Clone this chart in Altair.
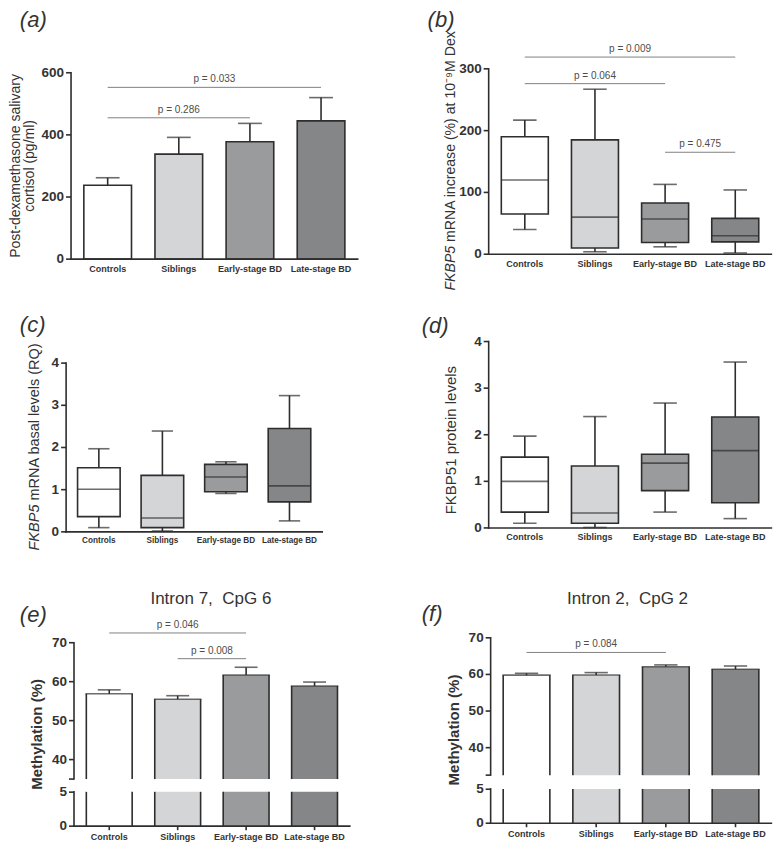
import altair as alt
import pandas as pd

# ---------------- data ----------------
groups = ["Controls", "Siblings", "Early-stage BD", "Late-stage BD"]
fills = ["#ffffff", "#d4d5d7", "#9a9b9d", "#858688"]

# (a) post-dexamethasone salivary cortisol (mean, mean + SEM)
cort_mean = [238, 338, 378, 445]
cort_top = [262, 392, 437, 520]
a_pvals = [["Controls", "Late-stage BD", 553, "p = 0.033"],
           ["Controls", "Early-stage BD", 455, "p = 0.286"]]
a_ticks = [0, 200, 400, 600]

# (b) FKBP5 mRNA increase at 10^-9 M Dex (box: min, q1, median, q3, max)
b_lo = [40, 4, 12, 2]
b_q1 = [65, 10, 19, 20]
b_med = [120, 60, 57, 30]
b_q3 = [190, 185, 83, 58]
b_hi = [217, 267, 113, 104]
b_pvals = [["Controls", "Late-stage BD", 319, "p = 0.009"],
           ["Controls", "Early-stage BD", 276, "p = 0.064"],
           ["Early-stage BD", "Late-stage BD", 165, "p = 0.475"]]
b_ticks = [0, 100, 200, 300]

# (c) FKBP5 mRNA basal levels
c_lo = [0.10, 0.02, 0.91, 0.26]
c_q1 = [0.36, 0.10, 0.95, 0.71]
c_med = [1.01, 0.33, 1.30, 1.09]
c_q3 = [1.52, 1.34, 1.60, 2.45]
c_hi = [1.97, 2.39, 1.66, 3.23]
c_ticks = [0, 1, 2, 3, 4]

# (d) FKBP51 protein levels
d_lo = [0.10, 0.01, 0.34, 0.20]
d_q1 = [0.34, 0.10, 0.80, 0.54]
d_med = [1.00, 0.32, 1.39, 1.66]
d_q3 = [1.52, 1.33, 1.58, 2.38]
d_hi = [1.97, 2.39, 2.68, 3.56]
d_ticks = [0, 1, 2, 3, 4]

# (e) Intron 7, CpG 6 methylation (mean, mean + SEM)
e_mean = [56.9, 55.5, 61.7, 58.9]
e_top = [57.9, 56.4, 63.7, 59.9]
e_pvals = [["Controls", "Early-stage BD", 72.5, "p = 0.046"],
           ["Siblings", "Early-stage BD", 65.9, "p = 0.008"]]

# (f) Intron 2, CpG 2 methylation
f_mean = [59.8, 59.85, 62.1, 61.4]
f_top = [60.3, 60.5, 62.6, 62.3]
f_pvals = [["Controls", "Early-stage BD", 66.0, "p = 0.084"]]

upper_ticks = [40, 50, 60, 70]
lower_ticks = [0, 5]

# ---------------- layout ----------------
W, H = 766, 836
SX, SY = 0.985, 0.981
FONT = "Liberation Sans"
INK = "#2e2e2e"
TXT = "#333333"
PLINE = "#808080"
PTXT = "#4d4d4d"
LW = 1.6
PI, PO = 0.33, 0.18
YLAB = 13.5


def fx(r):
    return round((r - 3) * SX, 2)


def fy(r):
    return round((r - 2) * SY, 2)


PA = dict(x0=67, x1=358, top=68, bot=258, dom=[0, 600], xl=9)
PB = dict(x0=491, x1=778, top=64, bot=253, dom=[0, 300], xl=9)
PC = dict(x0=62, x1=322, top=364, bot=536, dom=[0, 4], xl=8.2)
PD = dict(x0=491, x1=778, top=342, bot=532, dom=[0, 4], xl=9)
PE = dict(x0=70, x1=350, utop=649, ubot=788, ulo=35, ltop=801, lbot=836, lhi=5.05, xl=9)
PF = dict(x0=493, x1=778, utop=644, ubot=784, ulo=32.5, ltop=798, lbot=833, lhi=5.05, xl=9)


def geom(x0, x1):
    step = (fx(x1) - fx(x0)) / (len(groups) - PI + 2 * PO)
    return step, step * (1 - PI)


def make_xs(x0, x1):
    return alt.Scale(domain=groups, range=[fx(x0), fx(x1)], paddingInner=PI, paddingOuter=PO)


def make_ys(lo, hi, top, bot):
    return alt.Scale(domain=[lo, hi], range=[fy(bot), fy(top)], nice=False, zero=False)


# ---- axes drawn as marks through the panel scales ----
def y_axis(x0, ys, lo, hi, vals, end_ticks=()):
    px = fx(x0)
    line = alt.Chart(pd.DataFrame({"lo": [lo], "hi": [hi]})).mark_rule(
        color=INK, strokeWidth=LW, strokeCap="square").encode(
        x=alt.value(px), y=alt.Y("lo:Q", scale=ys, axis=None), y2="hi")
    tdf = pd.DataFrame({"v": list(vals) + list(end_ticks),
                        "lab": [str(v) for v in vals] + [""] * len(end_ticks)})
    ticks = alt.Chart(tdf).mark_rule(color=INK, strokeWidth=LW).encode(
        x=alt.value(px - 5), x2=alt.value(px), y=alt.Y("v:Q", scale=ys, axis=None))
    text = alt.Chart(tdf).mark_text(font=FONT, fontSize=YLAB, fontWeight="bold", color=TXT,
                                    align="right", baseline="middle").encode(
        x=alt.value(px - 7), y=alt.Y("v:Q", scale=ys, axis=None), text="lab:N")
    return [line, ticks, text]


def x_axis(x0, x1, xs, ys, lo, bot, ticks, fsize):
    py = fy(bot)
    line = alt.Chart(pd.DataFrame({"lo": [lo]})).mark_rule(
        color=INK, strokeWidth=LW, strokeCap="square").encode(
        x=alt.value(fx(x0)), x2=alt.value(fx(x1)), y=alt.Y("lo:Q", scale=ys, axis=None))
    gdf = pd.DataFrame({"g": groups})
    labs = alt.Chart(gdf).mark_text(font=FONT, fontSize=fsize, fontWeight="bold", color=TXT,
                                    baseline="top").encode(
        x=alt.X("g:N", scale=xs, axis=None), y=alt.value(py + (7 if ticks else 5.5)), text="g:N")
    out = [line, labs]
    if ticks:
        out.append(alt.Chart(gdf).mark_rule(color=INK, strokeWidth=LW).encode(
            x=alt.X("g:N", scale=xs, axis=None), y=alt.value(py), y2=alt.value(py + 4)))
    return out


def pval_layers(pvals, xs, ys, step, bw):
    out = []
    for g0, g1, lvl, lab in pvals:
        k = groups.index(g1) - groups.index(g0)
        base = alt.Chart(pd.DataFrame({"g0": [g0], "g1": [g1], "lvl": [lvl], "lab": [lab]}))
        out.append(base.mark_rule(color=PLINE, strokeWidth=1).encode(
            x=alt.X("g0:N", scale=xs, axis=None, bandPosition=0.5),
            x2=alt.X2("g1", bandPosition=0.5),
            y=alt.Y("lvl:Q", scale=ys, axis=None)))
        out.append(base.mark_text(font=FONT, fontSize=10, color=PTXT, dy=-5, dx=round(k * step / 2, 2),
                                  baseline="alphabetic").encode(
            x=alt.X("g0:N", scale=xs, axis=None, bandPosition=0.5),
            y=alt.Y("lvl:Q", scale=ys, axis=None),
            text="lab:N"))
    return out


def bar_panel(means, tops, P, vals, pvals):
    xs = make_xs(P["x0"], P["x1"])
    ys = make_ys(P["dom"][0], P["dom"][1], P["top"], P["bot"])
    step, bw = geom(P["x0"], P["x1"])
    base = alt.Chart(pd.DataFrame({"g": groups, "m": means, "t": tops, "fill": fills}))
    X = alt.X("g:N", scale=xs, axis=None)
    bars = base.mark_bar(stroke=INK, strokeWidth=LW).encode(
        x=X, y=alt.Y("m:Q", scale=ys, axis=None), color=alt.Color("fill:N", scale=None))
    err = base.mark_rule(color=INK, strokeWidth=LW).encode(
        x=X, y=alt.Y("m:Q", scale=ys, axis=None), y2="t")
    cap = base.mark_tick(color=INK, orient="horizontal", size=bw / 2, thickness=LW).encode(
        x=X, y=alt.Y("t:Q", scale=ys, axis=None))
    return alt.layer(
        bars, err, cap,
        *y_axis(P["x0"], ys, P["dom"][0], P["dom"][1], vals),
        *x_axis(P["x0"], P["x1"], xs, ys, P["dom"][0], P["bot"], False, P["xl"]),
        *pval_layers(pvals, xs, ys, step, bw))


def box_panel(lo, q1, med, q3, hi, P, vals, pvals):
    xs = make_xs(P["x0"], P["x1"])
    ys = make_ys(P["dom"][0], P["dom"][1], P["top"], P["bot"])
    step, bw = geom(P["x0"], P["x1"])
    base = alt.Chart(pd.DataFrame({"g": groups, "lo": lo, "q1": q1, "med": med,
                                   "q3": q3, "hi": hi, "fill": fills}))
    X = alt.X("g:N", scale=xs, axis=None)
    Yf = lambda f: alt.Y(f + ":Q", scale=ys, axis=None)
    box = base.mark_bar(stroke=INK, strokeWidth=LW).encode(
        x=X, y=Yf("q1"), y2="q3", color=alt.Color("fill:N", scale=None))
    wlo = base.mark_rule(color=INK, strokeWidth=LW).encode(x=X, y=Yf("lo"), y2="q1")
    whi = base.mark_rule(color=INK, strokeWidth=LW).encode(x=X, y=Yf("q3"), y2="hi")
    medt = base.mark_tick(color=INK, orient="horizontal", size=bw, thickness=LW).encode(x=X, y=Yf("med"))
    caplo = base.mark_tick(color=INK, orient="horizontal", size=bw / 2, thickness=LW).encode(x=X, y=Yf("lo"))
    caphi = base.mark_tick(color=INK, orient="horizontal", size=bw / 2, thickness=LW).encode(x=X, y=Yf("hi"))
    return alt.layer(
        box, wlo, whi, medt, caplo, caphi,
        *y_axis(P["x0"], ys, P["dom"][0], P["dom"][1], vals),
        *x_axis(P["x0"], P["x1"], xs, ys, P["dom"][0], P["bot"], False, P["xl"]),
        *pval_layers(pvals, xs, ys, step, bw))


def broken_panel(means, tops, P, pvals):
    xs = make_xs(P["x0"], P["x1"])
    step, bw = geom(P["x0"], P["x1"])
    ys_u = make_ys(P["ulo"], 70, P["utop"], P["ubot"])
    ys_l = make_ys(0, P["lhi"], P["ltop"], P["lbot"])
    base = alt.Chart(pd.DataFrame({"g": groups, "m": means, "t": tops, "fill": fills}))
    X = lambda **kw: alt.X("g:N", scale=xs, axis=None, **kw)
    Yu = lambda f: alt.Y(f + ":Q", scale=ys_u, axis=None)

    lbars = base.mark_bar().encode(
        x=X(), y=alt.YDatum(P["lhi"], scale=ys_l, axis=None),
        y2=alt.datum(0), color=alt.Color("fill:N", scale=None))
    ledges = [base.mark_rule(color=INK, strokeWidth=LW).encode(
        x=X(bandPosition=bp), y=alt.YDatum(0, scale=ys_l, axis=None), y2=alt.datum(P["lhi"])) for bp in (0, 1)]
    lower = alt.layer(
        lbars, *ledges,
        *y_axis(P["x0"], ys_l, 0, P["lhi"], lower_ticks),
        *x_axis(P["x0"], P["x1"], xs, ys_l, 0, P["lbot"], True, P["xl"]))

    ubars = base.mark_bar().encode(
        x=X(), y=Yu("m"), y2=alt.datum(P["ulo"]), color=alt.Color("fill:N", scale=None))
    uedges = [base.mark_rule(color=INK, strokeWidth=LW).encode(
        x=X(bandPosition=bp), y=Yu("m"), y2=alt.datum(P["ulo"])) for bp in (0, 1)]
    utop = base.mark_tick(color=INK, orient="horizontal", size=bw + LW, thickness=LW).encode(x=X(), y=Yu("m"))
    err = base.mark_rule(color=INK, strokeWidth=LW).encode(x=X(), y=Yu("m"), y2="t")
    cap = base.mark_tick(color=INK, orient="horizontal", size=bw / 2, thickness=LW).encode(x=X(), y=Yu("t"))
    upper = alt.layer(
        ubars, *uedges, utop, err, cap,
        *y_axis(P["x0"], ys_u, P["ulo"], 70, upper_ticks, end_ticks=[P["ulo"]]),
        *pval_layers(pvals, xs, ys_u, step, bw))
    return alt.layer(lower, upper).resolve_scale(y="independent")


def label(txt, x, y, size, weight="normal", style="normal", angle=0, align="center",
          baseline="alphabetic", color=TXT):
    return alt.Chart(pd.DataFrame({"t": [txt]})).mark_text(
        font=FONT, fontSize=size, fontWeight=weight, fontStyle=style, angle=angle,
        align=align, baseline=baseline, color=color).encode(
        x=alt.value(x), y=alt.value(y), text="t:N")


def mixed_title(it, rest, xc, ybot, fs, em_it):
    # italic gene name starts at ybot (reading upwards), the rest follows it
    L1, s = em_it * fs, 0.278 * fs
    anchor = fy(ybot) - L1
    return [label(it, fx(xc), anchor, fs, style="italic", angle=270, align="right", baseline="middle"),
            label(rest, fx(xc), anchor - s, fs, angle=270, align="left", baseline="middle")]


annotations = [
    label("(a)", fx(15), fy(21), 22, style="italic", align="left"),
    label("(b)", fx(429), fy(21), 22, style="italic", align="left"),
    label("(c)", fx(15), fy(332), 22, style="italic", align="left"),
    label("(d)", fx(423), fy(333), 22, style="italic", align="left"),
    label("(e)", fx(15), fy(627.5), 22, style="italic", align="left"),
    label("(f)", fx(423), fy(627), 22, style="italic", align="left"),
    label("Post-dexamethasone salivary", fx(11.5), fy(163), 14, angle=270, baseline="middle"),
    label("cortisol (pg/ml)", fx(25.5), fy(163), 14, angle=270, baseline="middle"),
    *mixed_title("FKBP5", "mRNA increase (%) at 10\u207b\u2079M Dex", 452.5, 290, 14.1, 3.168),
    *mixed_title("FKBP5", "mRNA basal levels (RQ)", 30, 555, 14.5, 3.168),
    label("FKBP51 protein levels", fx(452.5), fy(442.5), 15, angle=270, baseline="middle"),
    label("Methylation (%)", fx(32.5), fy(742.5), 15, weight="bold", angle=270, baseline="middle"),
    label("Methylation (%)", fx(456), fy(738), 15, weight="bold", angle=270, baseline="middle"),
    label("Intron 7,\u00a0 CpG 6", fx(209), fy(610), 17),
    label("Intron 2,\u00a0 CpG 2", fx(632), fy(610), 17),
]

panel_a = bar_panel(cort_mean, cort_top, PA, a_ticks, a_pvals)
panel_b = box_panel(b_lo, b_q1, b_med, b_q3, b_hi, PB, b_ticks, b_pvals)
panel_c = box_panel(c_lo, c_q1, c_med, c_q3, c_hi, PC, c_ticks, [])
panel_d = box_panel(d_lo, d_q1, d_med, d_q3, d_hi, PD, d_ticks, [])
panel_e = broken_panel(e_mean, e_top, PE, e_pvals)
panel_f = broken_panel(f_mean, f_top, PF, f_pvals)

chart = alt.layer(
    panel_a, panel_b, panel_c, panel_d, panel_e, panel_f, *annotations
).resolve_scale(x="independent", y="independent").properties(
    width=W, height=H, padding=0
).configure_view(stroke=None)

chart.save("out.html", embed_options={"renderer": "svg", "actions": False})
